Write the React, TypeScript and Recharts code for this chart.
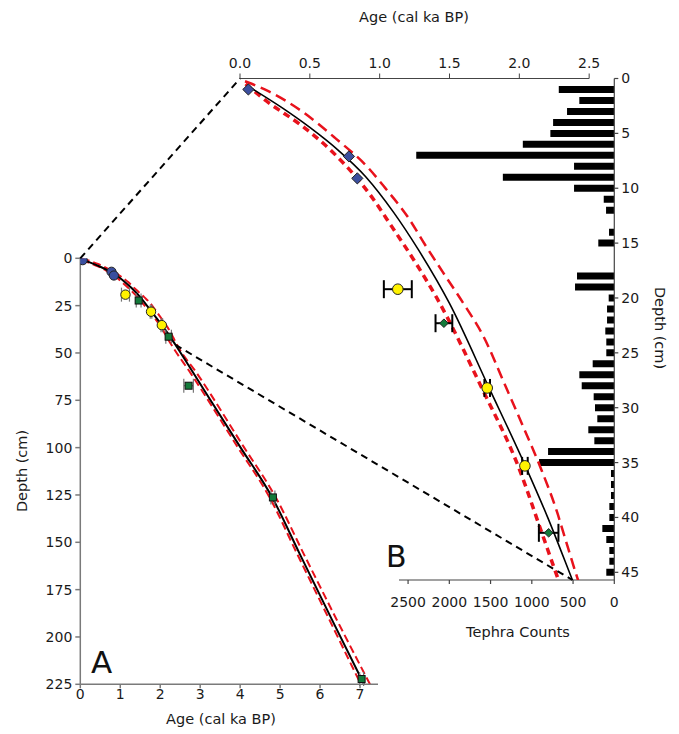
import React from 'react';
import {
  Bar,
  ComposedChart,
  ErrorBar,
  Line,
  ReferenceLine,
  Scatter,
  XAxis,
  YAxis,
} from 'recharts';

const W = 679;
const H = 734;
const FONT = '"DejaVu Sans", Verdana, sans-serif';

// plot areas (page px)
const A_LEFT = 80.3;
const A_RIGHT = 378;
const A_TOP = 258.3;
const A_BOTTOM = 684.3;
const B_LEFT = 240;
const B_RIGHT = 614.3;
const B_TOP = 78.5;
const B_BOTTOM = 580;
const T_LEFT = 399;

const A_AGE_MAX = 7.45;
const A_DEPTH_MAX = 225;
const B_AGE_MAX = 2.68;
const B_DEPTH_MAX = 45.7;
const T_COUNT_MAX = 2610;

// dated levels: age (cal ka BP), depth (cm), age error (ka)
const blueAges = [0.06, 0.78, 0.84];
const blueDepths = [1.0, 7.1, 9.1];
const yellowAges = [1.13, 1.77, 2.04];
const yellowDepths = [19.2, 28.2, 35.3];
const yellowErr = [0.1, 0.02, 0.02];
const greenAges = [1.46, 2.21, 2.71, 4.82, 7.04];
const greenDepths = [22.3, 41.4, 67.3, 126.3, 222.2];
const greenErr = [0.06, 0.07, 0.12, 0.05, 0.05];

// age-depth model (best fit)
const modelAges = [0.07, 0.3, 0.5, 0.7, 0.9, 1.1, 1.277, 1.5, 1.78, 2.05, 2.2, 2.38, 3.2, 4.0, 4.8, 5.5, 6.3, 7.1];
const modelDepths = [0.8, 2.66, 4.46, 6.5, 8.95, 12.2, 15.6, 20.5, 28.1, 35.5, 39.9, 45.7, 73, 99.6, 126.2, 156.5, 191, 225];

// younger confidence bound
const youngAges = [0.04, 0.191, 0.442, 0.657, 0.931, 1.087, 1.266, 1.409, 1.731, 1.994, 2.161, 2.269, 2.765, 3.935, 4.735, 5.435, 6.235, 7.02];
const youngDepths = [0.5, 2.07, 4.3, 6.63, 10.58, 13.5, 16.97, 20.0, 28.2, 35.4, 41.4, 45.3, 60.8, 99.6, 126.2, 156.5, 191, 225];

// older confidence bound
const oldAges = [0.036, 0.203, 0.442, 0.68, 0.919, 1.039, 1.206, 1.325, 1.45, 1.6, 1.743, 1.9, 2.02, 2.15, 2.27, 2.33, 2.42, 2.92, 4.09, 4.89, 5.6, 6.42, 7.25];
const oldDepths = [0.25, 1.16, 2.98, 5.41, 8.15, 9.97, 12.7, 15.15, 17.6, 20.5, 23.5, 28.0, 31.5, 35.4, 39.5, 42, 45.7, 60.8, 99.6, 126.2, 156.5, 191, 225];

// tephra counts per cm
const tephraDepths = [1, 2, 3, 4, 5, 6, 7, 8, 9, 10, 11, 12, 13, 14, 15, 16, 17, 18, 19, 20, 21, 22, 23, 24, 25, 26, 27, 28, 29, 30, 31, 32, 33, 34, 35, 36, 37, 38, 39, 40, 41, 42, 43, 44, 45];
const tephraCounts = [673, 424, 573, 742, 775, 1109, 2401, 488, 1351, 488, 128, 100, 0, 64, 194, 0, 0, 452, 476, 68, 88, 88, 109, 97, 97, 262, 424, 395, 250, 234, 206, 315, 242, 803, 912, 40, 40, 40, 60, 60, 145, 97, 60, 60, 97];

const aAgeTicks = [0, 1, 2, 3, 4, 5, 6, 7];
const aDepthTicks = [0, 25, 50, 75, 100, 125, 150, 175, 200, 225];
const bAgeTicks = [0, 0.5, 1, 1.5, 2, 2.5];
const bDepthTicks = [0, 5, 10, 15, 20, 25, 30, 35, 40, 45];
const countTicks = [0, 500, 1000, 1500, 2000, 2500];

const pairs = (ages: number[], depths: number[], errs?: number[]) =>
  ages.map((age, i) => ({ age, depth: depths[i], err: errs ? errs[i] : 0 }));

const modelData = pairs(modelAges, modelDepths);
const youngData = pairs(youngAges, youngDepths);
const oldData = pairs(oldAges, oldDepths);
const blueData = pairs(blueAges, blueDepths);
const yellowData = pairs(yellowAges, yellowDepths, yellowErr);
const greenData = pairs(greenAges, greenDepths, greenErr);
const tephraData = tephraDepths.map((depth, i) => ({ depth, count: tephraCounts[i] }));

const inB = (d: { depth: number }) => d.depth <= B_DEPTH_MAX;

const RED = '#e8121c';
const BLUE = '#3b4f9f';
const YELLOW = '#fff200';
const GREEN = '#137a3a';
const tickStyle = { fill: '#1a1a1a', fontSize: 14, fontFamily: FONT };

// page coordinate helpers for the zoom connectors
const aX = (age: number) => A_LEFT + (age / A_AGE_MAX) * (A_RIGHT - A_LEFT);
const aY = (depth: number) => A_TOP + (depth / A_DEPTH_MAX) * (A_BOTTOM - A_TOP);
const bX = (age: number) => B_LEFT + (age / B_AGE_MAX) * (B_RIGHT - B_LEFT);
const bY = (depth: number) => B_TOP + (depth / B_DEPTH_MAX) * (B_BOTTOM - B_TOP);

function circle(r: number, fill: string) {
  return (p: any) => <circle cx={p.cx} cy={p.cy} r={r} fill={fill} stroke="#222" strokeWidth={1} />;
}
function square(s: number, fill: string) {
  return (p: any) => (
    <rect x={p.cx - s / 2} y={p.cy - s / 2} width={s} height={s} fill={fill} stroke="#111" strokeWidth={1} />
  );
}
function diamond(h: number, fill: string) {
  return (p: any) => (
    <path
      d={`M${p.cx},${p.cy - h}L${p.cx + h},${p.cy}L${p.cx},${p.cy + h}L${p.cx - h},${p.cy}Z`}
      fill={fill}
      stroke="#222"
      strokeWidth={1}
    />
  );
}

function PanelA() {
  return (
    <ComposedChart
      width={W}
      height={H}
      margin={{ top: A_TOP, left: A_LEFT - 40, right: W - A_RIGHT, bottom: H - A_BOTTOM - 30 }}
    >
      <XAxis
        type="number"
        dataKey="age"
        domain={[0, A_AGE_MAX]}
        ticks={aAgeTicks}
        allowDataOverflow
        height={30}
        stroke="#7a7a7a"
        strokeWidth={1.5}
        tick={tickStyle}
        tickSize={4}
        tickMargin={1}
      />
      <YAxis
        type="number"
        dataKey="depth"
        domain={[0, A_DEPTH_MAX]}
        reversed
        ticks={aDepthTicks}
        allowDataOverflow
        width={40}
        stroke="#7a7a7a"
        strokeWidth={1.5}
        tick={tickStyle}
        tickSize={5}
        tickMargin={3}
      />
      <Line data={youngData} dataKey="depth" type="monotone" stroke={RED} strokeWidth={2} strokeDasharray="8 4" dot={false} isAnimationActive={false} />
      <Line data={oldData} dataKey="depth" type="monotone" stroke={RED} strokeWidth={2} strokeDasharray="8 4" dot={false} isAnimationActive={false} />
      <Line data={modelData} dataKey="depth" type="monotone" stroke="#000" strokeWidth={2} dot={false} isAnimationActive={false} />
      <Scatter data={blueData} dataKey="depth" shape={circle(4.6, BLUE)} isAnimationActive={false} />
      <Scatter data={yellowData} dataKey="depth" shape={circle(4.7, YELLOW)} isAnimationActive={false}>
        <ErrorBar dataKey="err" direction="x" width={7} stroke="#777" strokeWidth={1.2} />
      </Scatter>
      <Scatter data={greenData} dataKey="depth" shape={square(7, GREEN)} isAnimationActive={false}>
        <ErrorBar dataKey="err" direction="x" width={7} stroke="#777" strokeWidth={1.2} />
      </Scatter>
    </ComposedChart>
  );
}

function PanelB() {
  return (
    <ComposedChart
      width={W}
      height={H}
      margin={{ top: B_TOP - 30, left: B_LEFT, right: W - B_RIGHT - 40, bottom: H - B_BOTTOM }}
    >
      <XAxis
        type="number"
        dataKey="age"
        orientation="top"
        domain={[0, B_AGE_MAX]}
        ticks={bAgeTicks}
        tickFormatter={(v: number) => v.toFixed(1)}
        allowDataOverflow
        axisLine={false}
        height={30}
        stroke="#444"
        tick={tickStyle}
        tickSize={5}
        tickMargin={6}
      />
      <YAxis
        type="number"
        dataKey="depth"
        orientation="right"
        domain={[0, B_DEPTH_MAX]}
        reversed
        ticks={bDepthTicks}
        allowDataOverflow
        width={40}
        stroke="#444"
        strokeWidth={1.2}
        tick={{ ...tickStyle, textAnchor: 'start' }}
        tickSize={4}
        tickMargin={3}
      />
      <ReferenceLine segment={[{ x: 0, y: 0 }, { x: 2.5, y: 0 }]} stroke="#444" strokeWidth={1.2} ifOverflow="visible" />
      <Line data={youngData} dataKey="depth" type="monotone" stroke={RED} strokeWidth={3.5} strokeDasharray="7 5" dot={false} isAnimationActive={false} />
      <Line data={oldData} dataKey="depth" type="monotone" stroke={RED} strokeWidth={2.5} strokeDasharray="11 6" dot={false} isAnimationActive={false} />
      <Line data={modelData} dataKey="depth" type="monotone" stroke="#000" strokeWidth={1.6} dot={false} isAnimationActive={false} />
      <Scatter data={blueData.filter(inB)} dataKey="depth" shape={diamond(5.6, BLUE)} isAnimationActive={false} />
      <Scatter data={yellowData.filter(inB)} dataKey="depth" shape={circle(5.3, YELLOW)} isAnimationActive={false}>
        <ErrorBar dataKey="err" direction="x" width={9} stroke="#000" strokeWidth={2} />
      </Scatter>
      <Scatter data={greenData.filter(inB)} dataKey="depth" shape={diamond(4.3, GREEN)} isAnimationActive={false}>
        <ErrorBar dataKey="err" direction="x" width={9} stroke="#000" strokeWidth={2} />
      </Scatter>
    </ComposedChart>
  );
}

function TephraPanel() {
  return (
    <ComposedChart
      layout="vertical"
      width={W}
      height={H}
      data={tephraData}
      margin={{ top: B_TOP, left: T_LEFT, right: W - B_RIGHT, bottom: H - B_BOTTOM - 30 }}
    >
      <XAxis
        type="number"
        domain={[0, T_COUNT_MAX]}
        reversed
        ticks={countTicks}
        allowDataOverflow
        height={30}
        stroke="#444"
        strokeWidth={1.2}
        tick={tickStyle}
        tickSize={4}
        tickMargin={13}
      />
      <YAxis type="number" dataKey="depth" domain={[0, B_DEPTH_MAX]} hide allowDataOverflow />
      <Bar dataKey="count" fill="#000" barSize={7} isAnimationActive={false} />
    </ComposedChart>
  );
}

export default function App() {
  const last = modelData.filter(inB).slice(-1)[0];
  const titleStyle = { fontSize: 14.5, fontFamily: FONT, fill: '#1a1a1a' };
  return (
    <div style={{ position: 'absolute', left: 0, top: 0, width: W, height: H, background: '#fff' }}>
      <div style={{ position: 'absolute', left: 0, top: 0 }}>
        <TephraPanel />
      </div>
      <div style={{ position: 'absolute', left: 0, top: 0 }}>
        <PanelA />
      </div>
      <div style={{ position: 'absolute', left: 0, top: 0 }}>
        <PanelB />
      </div>
      <svg width={W} height={H} style={{ position: 'absolute', left: 0, top: 0, pointerEvents: 'none' }}>
        <line x1={aX(0)} y1={aY(0)} x2={bX(0)} y2={bY(0)} stroke="#000" strokeWidth={2} strokeDasharray="7 5" />
        <line x1={aX(last.age)} y1={aY(last.depth)} x2={bX(last.age)} y2={bY(last.depth)} stroke="#000" strokeWidth={2} strokeDasharray="7 5" />
        <text x={91} y={673} fontSize={31} fontFamily={FONT} fill="#111">A</text>
        <text x={386} y={567} fontSize={30} fontFamily={FONT} fill="#111">B</text>
        <text x={221} y={724} textAnchor="middle" {...titleStyle}>Age (cal ka BP)</text>
        <text x={414} y={22} textAnchor="middle" {...titleStyle}>Age (cal ka BP)</text>
        <text x={518} y={637} textAnchor="middle" {...titleStyle}>Tephra Counts</text>
        <text x={27} y={471} textAnchor="middle" transform="rotate(-90 27 471)" {...titleStyle}>Depth (cm)</text>
        <text x={655} y={328} textAnchor="middle" transform="rotate(90 655 328)" {...titleStyle}>Depth (cm)</text>
      </svg>
    </div>
  );
}
